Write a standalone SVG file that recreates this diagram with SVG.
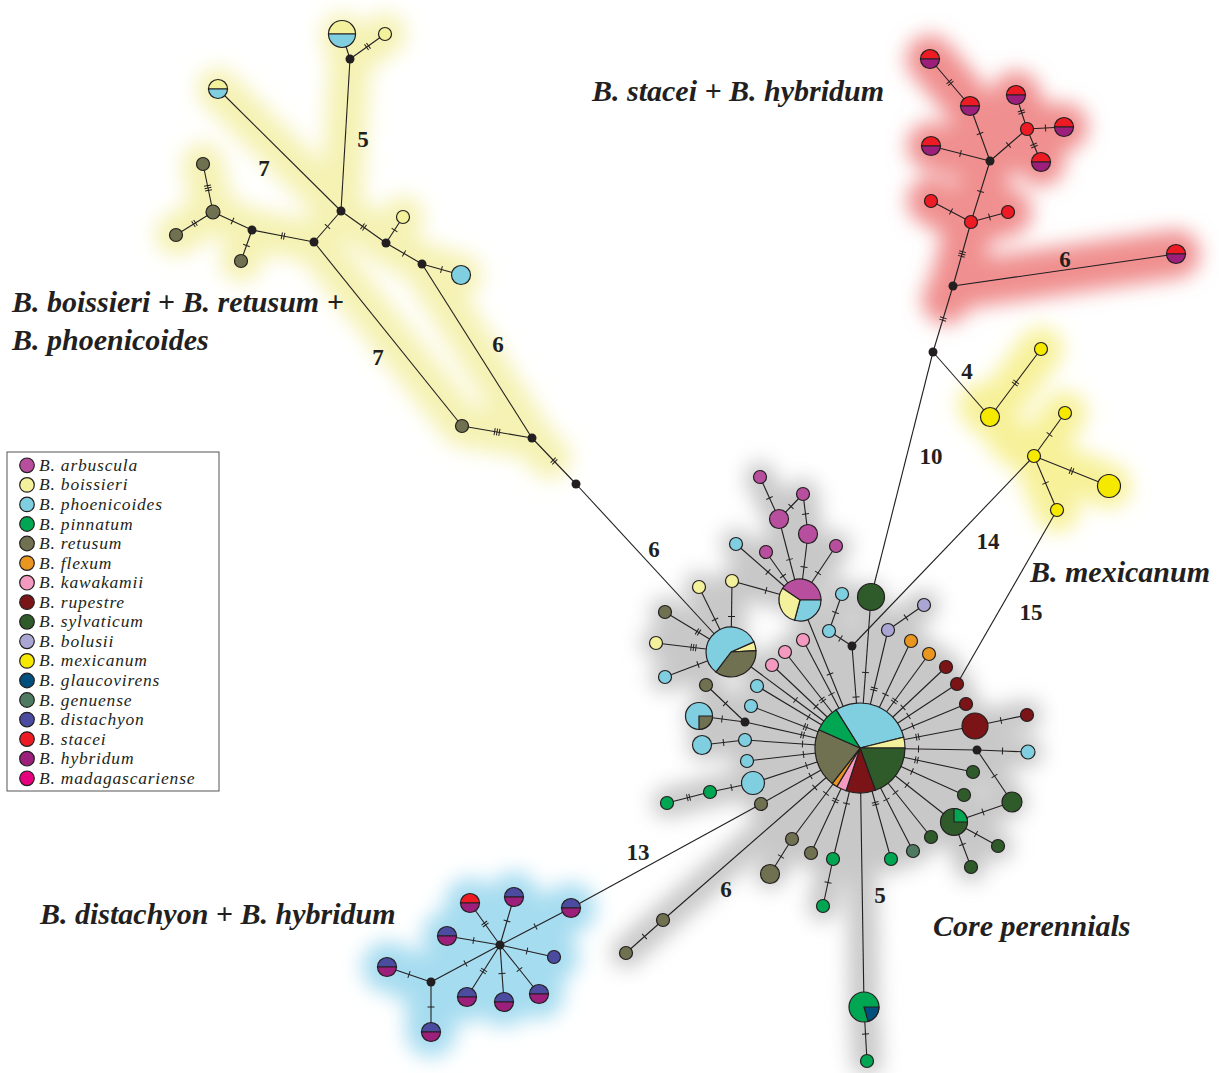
<svg xmlns="http://www.w3.org/2000/svg" width="1219" height="1073" viewBox="0 0 1219 1073">
<style>
.n{stroke:#231f20;stroke-width:1.2}
.ar{fill:#b84f9e}.bo{fill:#f4f19c}.ph{fill:#7fcfe0}.pi{fill:#00a651}.re{fill:#6f7150}.fl{fill:#e8961f}.ka{fill:#f49ac0}.ru{fill:#7b1416}.sy{fill:#2f5b2b}.bl{fill:#a9a6d3}.me{fill:#f6e900}.gl{fill:#004f7c}.ge{fill:#4f7a62}.di{fill:#4b4c9f}.st{fill:#ed1c24}.hy{fill:#9d1f7c}.ma{fill:#e6007e}.bk{fill:#231f20}
.e{fill:none;stroke:#231f20;stroke-width:1.1}
.t1{marker-mid:url(#t1)}.t2{marker-mid:url(#t2)}.t3{marker-mid:url(#t3)}
.glow{fill:none;stroke-linecap:round;stroke-linejoin:round}
.num{font-family:"Liberation Serif","Times New Roman",serif;font-weight:bold;font-size:23px;fill:#231f20;text-anchor:middle}
.title{font-family:"Liberation Serif","Times New Roman",serif;font-weight:bold;font-style:italic;font-size:30px;fill:#231f20}
.leg{font-family:"Liberation Serif","Times New Roman",serif;font-style:italic;font-size:17.5px;letter-spacing:0.8px;fill:#231f20}
</style>
<defs>
<marker id="t1" markerUnits="userSpaceOnUse" markerWidth="12" markerHeight="12" refX="6" refY="6" orient="auto" overflow="visible"><path d="M6 2.5V9.5" stroke="#231f20" stroke-width="1" fill="none"/></marker>
<marker id="t2" markerUnits="userSpaceOnUse" markerWidth="12" markerHeight="12" refX="6" refY="6" orient="auto" overflow="visible"><path d="M4.8 2.5V9.5M7.2 2.5V9.5" stroke="#231f20" stroke-width="1" fill="none"/></marker>
<marker id="t3" markerUnits="userSpaceOnUse" markerWidth="12" markerHeight="12" refX="6" refY="6" orient="auto" overflow="visible"><path d="M3.6 2.5V9.5M6 2.5V9.5M8.4 2.5V9.5" stroke="#231f20" stroke-width="1" fill="none"/></marker>
<filter id="blur" filterUnits="userSpaceOnUse" x="0" y="0" width="1219" height="1073"><feGaussianBlur stdDeviation="10"/></filter>
</defs>
<rect width="1219" height="1073" fill="#fff"/>

<g id="glows" filter="url(#blur)">
<g id="glow-core">
<circle cx="860" cy="748" r="72" fill="#c8c8c8"/>
<path class="glow" stroke="#c8c8c8" stroke-width="30" d="M860 748L800 600M800 600L779 519L760 477M779 519L803 494L808 534L800 600M800 600L766 552M800 600L836 546M800 600L736 544M800 600L732 581L731 652M731 652L699 587M731 652L665 612M731 652L656 643M731 652L665 677M731 652L860 748M706 685L745 722L699 716M745 722L860 748M757 686L860 748M751 706L860 748M702 745L745 740L860 748M747 761L860 748M667 803L710 792L753 783L860 748M761 804L860 748M770 874L792 839L860 748M811 853L860 748M823 906L833 859L860 748M626 953L663 920L860 748M860 748L864 1007L867 1061M891 859L860 748M913 851L860 748M931 837L860 748M860 748L954 822L998 846M954 822L971 867M954 822L1012 802L977 750L1028 752M977 750L860 748M964 795L860 748M973 772L860 748M1027 715L975 726L860 748M966 704L860 748M957 684L860 748M946 667L860 748M929 654L860 748M911 641L860 748M924 605L888 630L860 748M871 597L860 748M842 594L829 631L852 646L860 748M772 665L860 748M785 652L860 748M803 640L860 748"/>
</g>
<g id="glow-tl">
<path class="glow" stroke="#f5f2b4" stroke-width="42" d="M342 34L350 59L385 34M350 59L341 211M218 89L341 211M203 164L213 212L176 235M213 212L252 230L241 261M252 230L314 242L341 211L386 243L403 217M386 243L422 264L461 275M314 242L462 426L532 438L550 458M422 264L532 438"/>
</g>
<g id="glow-mex">
<path class="glow" stroke="#f7f19a" stroke-width="44" d="M980 405L990 417L1041 349M1065 413L1034 456L1109 486M1034 456L1057 510M1034 456L1010 440"/>
</g>
<g id="glow-red">
<path class="glow" stroke="#f08f8f" stroke-width="48" d="M930 59L970 106L990 161L931 146M1016 95L1027 129L1064 127M1027 129L1041 162M1027 129L990 161L971 222L931 201M971 222L1008 212M971 222L953 286L1176 254M953 286L946 300"/>
</g>
<g id="glow-blue">
<circle cx="490" cy="955" r="50" fill="#a6dcf0"/>
<path class="glow" stroke="#a6dcf0" stroke-width="50" d="M470 903L500 945L514 897M500 945L571 908M500 945L447 936M500 945L554 957M500 945L431 982L387 967M431 982L431 1032M500 945L467 997M500 945L504 1002M500 945L539 994"/>
</g>
</g>

<g id="connectors">
<path class="e" d="M342 34L350 59"/>
<path class="e t2" d="M350 59L367.5 46.5L385 34"/>
<path class="e" d="M350 59L341 211"/>
<path class="e" d="M218 89L341 211"/>
<path class="e t3" d="M203 164L208 188L213 212"/>
<path class="e t2" d="M213 212L194.5 223.5L176 235"/>
<path class="e t1" d="M213 212L232.5 221L252 230"/>
<path class="e t1" d="M252 230L246.5 245.5L241 261"/>
<path class="e t2" d="M252 230L283 236L314 242"/>
<path class="e t1" d="M314 242L327.5 226.5L341 211"/>
<path class="e t2" d="M341 211L363.5 227L386 243"/>
<path class="e t1" d="M386 243L394.5 230L403 217"/>
<path class="e t1" d="M386 243L404 253.5L422 264"/>
<path class="e t1" d="M422 264L441.5 269.5L461 275"/>
<path class="e" d="M314 242L462 426"/>
<path class="e" d="M422 264L532 438"/>
<path class="e t3" d="M462 426L497 432L532 438"/>
<path class="e t2" d="M532 438L554 461L576 484"/>
<path class="e" d="M576 484L731 652"/>
<path class="e t2" d="M930 59L950 82.5L970 106"/>
<path class="e t1" d="M970 106L980 133.5L990 161"/>
<path class="e t1" d="M931 146L960.5 153.5L990 161"/>
<path class="e t2" d="M1016 95L1021.5 112L1027 129"/>
<path class="e t1" d="M1064 127L1045.5 128L1027 129"/>
<path class="e t2" d="M1041 162L1034 145.5L1027 129"/>
<path class="e t1" d="M1027 129L1008.5 145L990 161"/>
<path class="e t1" d="M990 161L980.5 191.5L971 222"/>
<path class="e t1" d="M931 201L951 211.5L971 222"/>
<path class="e t1" d="M1008 212L989.5 217L971 222"/>
<path class="e t3" d="M971 222L962 254L953 286"/>
<path class="e" d="M953 286L1176 254"/>
<path class="e t2" d="M953 286L943 319L933 352"/>
<path class="e" d="M933 352L871 597"/>
<path class="e" d="M933 352L990 417"/>
<path class="e t2" d="M990 417L1015.5 383L1041 349"/>
<path class="e t1" d="M1034 456L1049.5 434.5L1065 413"/>
<path class="e t2" d="M1034 456L1071.5 471L1109 486"/>
<path class="e t1" d="M1034 456L1045.5 483L1057 510"/>
<path class="e" d="M1034 456L852 646"/>
<path class="e" d="M1057 510L957 684"/>
<path class="e t2" d="M470 903L485 924L500 945"/>
<path class="e t1" d="M514 897L507 921L500 945"/>
<path class="e t1" d="M571 908L535.5 926.5L500 945"/>
<path class="e t1" d="M447 936L473.5 940.5L500 945"/>
<path class="e t1" d="M554 957L527 951L500 945"/>
<path class="e t1" d="M500 945L465.5 963.5L431 982"/>
<path class="e t1" d="M387 967L409 974.5L431 982"/>
<path class="e t1" d="M431 1032L431 1007L431 982"/>
<path class="e t2" d="M467 997L483.5 971L500 945"/>
<path class="e t1" d="M504 1002L502 973.5L500 945"/>
<path class="e t1" d="M539 994L519.5 969.5L500 945"/>
<path class="e" d="M571 908L761 804"/>
<path class="e t1" d="M760 477L769.5 498L779 519"/>
<path class="e t1" d="M803 494L791 506.5L779 519"/>
<path class="e t1" d="M803 494L805.5 514L808 534"/>
<path class="e t1" d="M779 519L789.5 559.5L800 600"/>
<path class="e t1" d="M808 534L804 567L800 600"/>
<path class="e t1" d="M766 552L783 576L800 600"/>
<path class="e t1" d="M836 546L818 573L800 600"/>
<path class="e t1" d="M736 544L768 572L800 600"/>
<path class="e t1" d="M732 581L766 590.5L800 600"/>
<path class="e t1" d="M800 600L830 674L860 748"/>
<path class="e t1" d="M732 581L731.5 616.5L731 652"/>
<path class="e t1" d="M699 587L715 619.5L731 652"/>
<path class="e t2" d="M665 612L698 632L731 652"/>
<path class="e t3" d="M656 643L693.5 647.5L731 652"/>
<path class="e t1" d="M665 677L698 664.5L731 652"/>
<path class="e t1" d="M731 652L795.5 700L860 748"/>
<path class="e t1" d="M706 685L725.5 703.5L745 722"/>
<path class="e t1" d="M699 716L722 719L745 722"/>
<path class="e t2" d="M745 722L802.5 735L860 748"/>
<path class="e t1" d="M757 686L808.5 717L860 748"/>
<path class="e t2" d="M751 706L805.5 727L860 748"/>
<path class="e t1" d="M745 740L802.5 744L860 748"/>
<path class="e t1" d="M702 745L723.5 742.5L745 740"/>
<path class="e t1" d="M747 761L803.5 754.5L860 748"/>
<path class="e t1" d="M753 783L806.5 765.5L860 748"/>
<path class="e t1" d="M753 783L731.5 787.5L710 792"/>
<path class="e t2" d="M710 792L688.5 797.5L667 803"/>
<path class="e t1" d="M761 804L810.5 776L860 748"/>
<path class="e t1" d="M792 839L826 793.5L860 748"/>
<path class="e t1" d="M792 839L781 856.5L770 874"/>
<path class="e t2" d="M811 853L835.5 800.5L860 748"/>
<path class="e t1" d="M833 859L846.5 803.5L860 748"/>
<path class="e t1" d="M833 859L828 882.5L823 906"/>
<path class="e t1" d="M860 748L814.8 787.5L663 920"/>
<path class="e t1" d="M663 920L644.5 936.5L626 953"/>
<path class="e" d="M860 748L864 1007"/>
<path class="e t1" d="M864 1007L865.5 1034L867 1061"/>
<path class="e t2" d="M891 859L875.5 803.5L860 748"/>
<path class="e t1" d="M913 851L886.5 799.5L860 748"/>
<path class="e t1" d="M931 837L895.5 792.5L860 748"/>
<path class="e t1" d="M954 822L907 785L860 748"/>
<path class="e t1" d="M964 795L912 771.5L860 748"/>
<path class="e t2" d="M973 772L916.5 760L860 748"/>
<path class="e t1" d="M977 750L918.5 749L860 748"/>
<path class="e t1" d="M977 750L1002.5 751L1028 752"/>
<path class="e t1" d="M977 750L994.5 776L1012 802"/>
<path class="e t1" d="M954 822L983 812L1012 802"/>
<path class="e t1" d="M954 822L976 834L998 846"/>
<path class="e t1" d="M954 822L962.5 844.5L971 867"/>
<path class="e t2" d="M975 726L917.5 737L860 748"/>
<path class="e t1" d="M975 726L1001 720.5L1027 715"/>
<path class="e t1" d="M966 704L913 726L860 748"/>
<path class="e t1" d="M957 684L908.5 716L860 748"/>
<path class="e t1" d="M946 667L903 707.5L860 748"/>
<path class="e t2" d="M929 654L894.5 701L860 748"/>
<path class="e t1" d="M911 641L885.5 694.5L860 748"/>
<path class="e t2" d="M888 630L874 689L860 748"/>
<path class="e t1" d="M888 630L906 617.5L924 605"/>
<path class="e t1" d="M871 597L865.5 672.5L860 748"/>
<path class="e t1" d="M842 594L835.5 612.5L829 631"/>
<path class="e t1" d="M829 631L840.5 638.5L852 646"/>
<path class="e t1" d="M852 646L856 697L860 748"/>
<path class="e t1" d="M772 665L816 706.5L860 748"/>
<path class="e t2" d="M785 652L822.5 700L860 748"/>
<path class="e t1" d="M803 640L831.5 694L860 748"/>
</g>

<g id="nodes">
<g id="tl-pie1" transform="translate(342 34)"><path class="n bo" d="M-13.5 0A13.5 13.5 0 0 1 13.5 0Z"/><path class="n ph" d="M-13.5 0A13.5 13.5 0 0 0 13.5 0Z"/></g>
<g id="tl-b1" transform="translate(385 34)"><circle class="n bo" r="6.5"/></g>
<g id="tl-j1" transform="translate(350 59)"><circle class="bk" r="4.5"/></g>
<g id="tl-pie2" transform="translate(218 89)"><path class="n bo" d="M-9.5 0A9.5 9.5 0 0 1 9.5 0Z"/><path class="n ph" d="M-9.5 0A9.5 9.5 0 0 0 9.5 0Z"/></g>
<g id="tl-r1" transform="translate(203 164)"><circle class="n re" r="6.5"/></g>
<g id="tl-r2" transform="translate(213 212)"><circle class="n re" r="7"/></g>
<g id="tl-r3" transform="translate(176 235)"><circle class="n re" r="6.5"/></g>
<g id="tl-j2" transform="translate(252 230)"><circle class="bk" r="4.5"/></g>
<g id="tl-r4" transform="translate(241 261)"><circle class="n re" r="6.5"/></g>
<g id="tl-j3" transform="translate(314 242)"><circle class="bk" r="4.5"/></g>
<g id="tl-j4" transform="translate(341 211)"><circle class="bk" r="4.5"/></g>
<g id="tl-j5" transform="translate(386 243)"><circle class="bk" r="4.5"/></g>
<g id="tl-b2" transform="translate(403 217)"><circle class="n bo" r="6.5"/></g>
<g id="tl-j6" transform="translate(422 264)"><circle class="bk" r="4.5"/></g>
<g id="tl-p1" transform="translate(461 275)"><circle class="n ph" r="9.5"/></g>
<g id="tl-r5" transform="translate(462 426)"><circle class="n re" r="6.5"/></g>
<g id="tl-j7" transform="translate(532 438)"><circle class="bk" r="4.5"/></g>
<g id="tl-j8" transform="translate(576 484)"><circle class="bk" r="4.5"/></g>
<g id="rd-1" transform="translate(930 59)"><path class="n st" d="M-9.5 0A9.5 9.5 0 0 1 9.5 0Z"/><path class="n hy" d="M-9.5 0A9.5 9.5 0 0 0 9.5 0Z"/></g>
<g id="rd-2" transform="translate(970 106)"><path class="n st" d="M-9.5 0A9.5 9.5 0 0 1 9.5 0Z"/><path class="n hy" d="M-9.5 0A9.5 9.5 0 0 0 9.5 0Z"/></g>
<g id="rd-3" transform="translate(1016 95)"><path class="n st" d="M-9.5 0A9.5 9.5 0 0 1 9.5 0Z"/><path class="n hy" d="M-9.5 0A9.5 9.5 0 0 0 9.5 0Z"/></g>
<g id="rd-4" transform="translate(1064 127)"><path class="n st" d="M-9.5 0A9.5 9.5 0 0 1 9.5 0Z"/><path class="n hy" d="M-9.5 0A9.5 9.5 0 0 0 9.5 0Z"/></g>
<g id="rd-5" transform="translate(931 146)"><path class="n st" d="M-9.5 0A9.5 9.5 0 0 1 9.5 0Z"/><path class="n hy" d="M-9.5 0A9.5 9.5 0 0 0 9.5 0Z"/></g>
<g id="rd-6" transform="translate(1041 162)"><path class="n st" d="M-9.5 0A9.5 9.5 0 0 1 9.5 0Z"/><path class="n hy" d="M-9.5 0A9.5 9.5 0 0 0 9.5 0Z"/></g>
<g id="rd-7" transform="translate(1176 254)"><path class="n st" d="M-9.5 0A9.5 9.5 0 0 1 9.5 0Z"/><path class="n hy" d="M-9.5 0A9.5 9.5 0 0 0 9.5 0Z"/></g>
<g id="rd-s1" transform="translate(1027 129)"><circle class="n st" r="6.5"/></g>
<g id="rd-j1" transform="translate(990 161)"><circle class="bk" r="4.5"/></g>
<g id="rd-s2" transform="translate(931 201)"><circle class="n st" r="6.5"/></g>
<g id="rd-s3" transform="translate(971 222)"><circle class="n st" r="6.5"/></g>
<g id="rd-s4" transform="translate(1008 212)"><circle class="n st" r="6.5"/></g>
<g id="rd-j2" transform="translate(953 286)"><circle class="bk" r="4.5"/></g>
<g id="rd-j3" transform="translate(933 352)"><circle class="bk" r="4.5"/></g>
<g id="mx-1" transform="translate(990 417)"><circle class="n me" r="9.5"/></g>
<g id="mx-2" transform="translate(1041 349)"><circle class="n me" r="6.5"/></g>
<g id="mx-3" transform="translate(1065 413)"><circle class="n me" r="6.5"/></g>
<g id="mx-4" transform="translate(1034 456)"><circle class="n me" r="6.5"/></g>
<g id="mx-5" transform="translate(1109 486)"><circle class="n me" r="11.5"/></g>
<g id="mx-6" transform="translate(1057 510)"><circle class="n me" r="6.5"/></g>
<g id="ds-1" transform="translate(470 903)"><path class="n st" d="M-9.5 0A9.5 9.5 0 0 1 9.5 0Z"/><path class="n hy" d="M-9.5 0A9.5 9.5 0 0 0 9.5 0Z"/></g>
<g id="ds-2" transform="translate(514 897)"><path class="n di" d="M-9.5 0A9.5 9.5 0 0 1 9.5 0Z"/><path class="n hy" d="M-9.5 0A9.5 9.5 0 0 0 9.5 0Z"/></g>
<g id="ds-3" transform="translate(571 908)"><path class="n di" d="M-9.5 0A9.5 9.5 0 0 1 9.5 0Z"/><path class="n hy" d="M-9.5 0A9.5 9.5 0 0 0 9.5 0Z"/></g>
<g id="ds-4" transform="translate(447 936)"><path class="n di" d="M-9.5 0A9.5 9.5 0 0 1 9.5 0Z"/><path class="n hy" d="M-9.5 0A9.5 9.5 0 0 0 9.5 0Z"/></g>
<g id="ds-j1" transform="translate(500 945)"><circle class="bk" r="4.5"/></g>
<g id="ds-5" transform="translate(554 957)"><circle class="n di" r="6.5"/></g>
<g id="ds-6" transform="translate(387 967)"><path class="n di" d="M-9.5 0A9.5 9.5 0 0 1 9.5 0Z"/><path class="n hy" d="M-9.5 0A9.5 9.5 0 0 0 9.5 0Z"/></g>
<g id="ds-j2" transform="translate(431 982)"><circle class="bk" r="4.5"/></g>
<g id="ds-7" transform="translate(467 997)"><path class="n di" d="M-9.5 0A9.5 9.5 0 0 1 9.5 0Z"/><path class="n hy" d="M-9.5 0A9.5 9.5 0 0 0 9.5 0Z"/></g>
<g id="ds-8" transform="translate(504 1002)"><path class="n di" d="M-9.5 0A9.5 9.5 0 0 1 9.5 0Z"/><path class="n hy" d="M-9.5 0A9.5 9.5 0 0 0 9.5 0Z"/></g>
<g id="ds-9" transform="translate(539 994)"><path class="n di" d="M-9.5 0A9.5 9.5 0 0 1 9.5 0Z"/><path class="n hy" d="M-9.5 0A9.5 9.5 0 0 0 9.5 0Z"/></g>
<g id="ds-10" transform="translate(431 1032)"><path class="n di" d="M-9.5 0A9.5 9.5 0 0 1 9.5 0Z"/><path class="n hy" d="M-9.5 0A9.5 9.5 0 0 0 9.5 0Z"/></g>
<g id="hub" transform="translate(860 748)">
<path class="n ph" d="M0 0L-23.85 -38.16A45 45 0 0 1 43.66 -10.89Z"/>
<path class="n bo" d="M0 0L43.66 -10.89A45 45 0 0 1 45 0Z"/>
<path class="n sy" d="M0 0L45 0A45 45 0 0 1 15.39 42.29Z"/>
<path class="n ru" d="M0 0L15.39 42.29A45 45 0 0 1 -13.91 42.8Z"/>
<path class="n ka" d="M0 0L-13.91 42.8A45 45 0 0 1 -23.18 38.57Z"/>
<path class="n fl" d="M0 0L-23.18 38.57A45 45 0 0 1 -27.7 35.46Z"/>
<path class="n re" d="M0 0L-27.7 35.46A45 45 0 0 1 -41.11 -18.3Z"/>
<path class="n pi" d="M0 0L-41.11 -18.3A45 45 0 0 1 -23.85 -38.16Z"/>
</g>
<g id="arb-pie" transform="translate(800 600)">
<path class="n ar" d="M0 0L-17.41 -11.74A21 21 0 0 1 21 0Z"/>
<path class="n ph" d="M0 0L21 0A21 21 0 0 1 -5.44 20.28Z"/>
<path class="n bo" d="M0 0L-5.44 20.28A21 21 0 0 1 -17.41 -11.74Z"/>
</g>
<g id="left-pie" transform="translate(731 652)">
<path class="n bo" d="M0 0L22.84 -10.17A25 25 0 0 1 24.97 -1.31Z"/>
<path class="n re" d="M0 0L24.97 -1.31A25 25 0 0 1 -15.05 19.97Z"/>
<path class="n ph" d="M0 0L-15.05 19.97A25 25 0 1 1 22.84 -10.17Z"/>
</g>
<g id="a1" transform="translate(760 477)"><circle class="n ar" r="6.5"/></g>
<g id="a2" transform="translate(803 494)"><circle class="n ar" r="6.5"/></g>
<g id="a3" transform="translate(779 519)"><circle class="n ar" r="9.5"/></g>
<g id="a4" transform="translate(808 534)"><circle class="n ar" r="9.5"/></g>
<g id="a5" transform="translate(766 552)"><circle class="n ar" r="6.5"/></g>
<g id="a6" transform="translate(836 546)"><circle class="n ar" r="6.5"/></g>
<g id="p1" transform="translate(736 544)"><circle class="n ph" r="6.5"/></g>
<g id="b1" transform="translate(732 581)"><circle class="n bo" r="6.5"/></g>
<g id="b2" transform="translate(699 587)"><circle class="n bo" r="6.5"/></g>
<g id="r1" transform="translate(665 612)"><circle class="n re" r="6.5"/></g>
<g id="b3" transform="translate(656 643)"><circle class="n bo" r="6.5"/></g>
<g id="p2" transform="translate(665 677)"><circle class="n ph" r="6.5"/></g>
<g id="r2" transform="translate(706 685)"><circle class="n re" r="6.5"/></g>
<g id="pie2" transform="translate(699 716)"><circle class="n ph" r="13.5"/><path class="n re" d="M0 0L13.5 0A13.5 13.5 0 0 1 0 13.5Z"/></g>
<g id="j1" transform="translate(745 722)"><circle class="bk" r="4.5"/></g>
<g id="p3" transform="translate(757 686)"><circle class="n ph" r="6.5"/></g>
<g id="p4" transform="translate(751 706)"><circle class="n ph" r="6.5"/></g>
<g id="p5" transform="translate(745 740)"><circle class="n ph" r="6.5"/></g>
<g id="p6" transform="translate(702 745)"><circle class="n ph" r="9.5"/></g>
<g id="p7" transform="translate(747 761)"><circle class="n ph" r="6.5"/></g>
<g id="p8" transform="translate(753 783)"><circle class="n ph" r="11.5"/></g>
<g id="pi1" transform="translate(710 792)"><circle class="n pi" r="6.5"/></g>
<g id="pi2" transform="translate(667 803)"><circle class="n pi" r="6.5"/></g>
<g id="r3" transform="translate(761 804)"><circle class="n re" r="6.5"/></g>
<g id="r4" transform="translate(792 839)"><circle class="n re" r="6.5"/></g>
<g id="r5" transform="translate(770 874)"><circle class="n re" r="9.5"/></g>
<g id="r6" transform="translate(811 853)"><circle class="n re" r="6.5"/></g>
<g id="pi3" transform="translate(833 859)"><circle class="n pi" r="6.5"/></g>
<g id="pi4" transform="translate(823 906)"><circle class="n pi" r="6.5"/></g>
<g id="r7" transform="translate(663 920)"><circle class="n re" r="6.5"/></g>
<g id="r8" transform="translate(626 953)"><circle class="n re" r="6.5"/></g>
<g id="pie3" transform="translate(864 1007)"><circle class="n pi" r="15"/><path class="n gl" d="M0 0L15 0A15 15 0 0 1 4.13 14.42Z"/></g>
<g id="pi5" transform="translate(867 1061)"><circle class="n pi" r="6.5"/></g>
<g id="pi6" transform="translate(891 859)"><circle class="n pi" r="6.5"/></g>
<g id="ge1" transform="translate(913 851)"><circle class="n ge" r="6.5"/></g>
<g id="s1" transform="translate(931 837)"><circle class="n sy" r="6.5"/></g>
<g id="pie4" transform="translate(954 822)"><circle class="n sy" r="13.5"/><path class="n pi" d="M0 0L0 -13.5A13.5 13.5 0 0 1 13.5 0Z"/></g>
<g id="s2" transform="translate(964 795)"><circle class="n sy" r="6.5"/></g>
<g id="s3" transform="translate(973 772)"><circle class="n sy" r="6.5"/></g>
<g id="j2" transform="translate(977 750)"><circle class="bk" r="4.5"/></g>
<g id="p9" transform="translate(1028 752)"><circle class="n ph" r="7"/></g>
<g id="s4" transform="translate(1012 802)"><circle class="n sy" r="10"/></g>
<g id="s5" transform="translate(998 846)"><circle class="n sy" r="6.5"/></g>
<g id="s6" transform="translate(971 867)"><circle class="n sy" r="6.5"/></g>
<g id="ru1" transform="translate(975 726)"><circle class="n ru" r="13"/></g>
<g id="ru2" transform="translate(1027 715)"><circle class="n ru" r="6.5"/></g>
<g id="ru3" transform="translate(966 704)"><circle class="n ru" r="6.5"/></g>
<g id="ru4" transform="translate(957 684)"><circle class="n ru" r="6.5"/></g>
<g id="ru5" transform="translate(946 667)"><circle class="n ru" r="6.5"/></g>
<g id="f1" transform="translate(929 654)"><circle class="n fl" r="6.5"/></g>
<g id="f2" transform="translate(911 641)"><circle class="n fl" r="6.5"/></g>
<g id="bl1" transform="translate(888 630)"><circle class="n bl" r="6.5"/></g>
<g id="bl2" transform="translate(924 605)"><circle class="n bl" r="6.5"/></g>
<g id="s7" transform="translate(871 597)"><circle class="n sy" r="13.5"/></g>
<g id="p10" transform="translate(842 594)"><circle class="n ph" r="6.5"/></g>
<g id="p11" transform="translate(829 631)"><circle class="n ph" r="6.5"/></g>
<g id="j3" transform="translate(852 646)"><circle class="bk" r="4.5"/></g>
<g id="k1" transform="translate(772 665)"><circle class="n ka" r="6.5"/></g>
<g id="k2" transform="translate(785 652)"><circle class="n ka" r="6.5"/></g>
<g id="k3" transform="translate(803 640)"><circle class="n ka" r="6.5"/></g>
</g>

<g id="labels">
<text class="num" x="363" y="147">5</text>
<text class="num" x="264" y="176">7</text>
<text class="num" x="378" y="365">7</text>
<text class="num" x="498" y="352">6</text>
<text class="num" x="654" y="557">6</text>
<text class="num" x="1065" y="267">6</text>
<text class="num" x="967" y="379">4</text>
<text class="num" x="931" y="464">10</text>
<text class="num" x="988" y="549">14</text>
<text class="num" x="1031" y="620">15</text>
<text class="num" x="638" y="860">13</text>
<text class="num" x="726" y="897">6</text>
<text class="num" x="880" y="903">5</text>
<text class="title" x="592" y="101">B. stacei + B. hybridum</text>
<text class="title" x="12" y="312">B. boissieri + B. retusum +</text>
<text class="title" x="12" y="350">B. phoenicoides</text>
<text class="title" x="1030" y="582">B. mexicanum</text>
<text class="title" x="40" y="924">B. distachyon + B. hybridum</text>
<text class="title" x="933" y="936">Core perennials</text>
</g>

<g id="legend">
<rect x="7" y="452" width="212" height="339" fill="#fff" stroke="#555" stroke-width="1"/>
<circle class="n ar" cx="27" cy="465.3" r="7.3"/><text class="leg" x="39" y="470.8">B. arbuscula</text>
<circle class="n bo" cx="27" cy="484.9" r="7.3"/><text class="leg" x="39" y="490.4">B. boissieri</text>
<circle class="n ph" cx="27" cy="504.4" r="7.3"/><text class="leg" x="39" y="509.9">B. phoenicoides</text>
<circle class="n pi" cx="27" cy="524" r="7.3"/><text class="leg" x="39" y="529.5">B. pinnatum</text>
<circle class="n re" cx="27" cy="543.5" r="7.3"/><text class="leg" x="39" y="549">B. retusum</text>
<circle class="n fl" cx="27" cy="563.1" r="7.3"/><text class="leg" x="39" y="568.6">B. flexum</text>
<circle class="n ka" cx="27" cy="582.7" r="7.3"/><text class="leg" x="39" y="588.2">B. kawakamii</text>
<circle class="n ru" cx="27" cy="602.2" r="7.3"/><text class="leg" x="39" y="607.7">B. rupestre</text>
<circle class="n sy" cx="27" cy="621.8" r="7.3"/><text class="leg" x="39" y="627.3">B. sylvaticum</text>
<circle class="n bl" cx="27" cy="641.3" r="7.3"/><text class="leg" x="39" y="646.8">B. bolusii</text>
<circle class="n me" cx="27" cy="660.9" r="7.3"/><text class="leg" x="39" y="666.4">B. mexicanum</text>
<circle class="n gl" cx="27" cy="680.5" r="7.3"/><text class="leg" x="39" y="686">B. glaucovirens</text>
<circle class="n ge" cx="27" cy="700" r="7.3"/><text class="leg" x="39" y="705.5">B. genuense</text>
<circle class="n di" cx="27" cy="719.6" r="7.3"/><text class="leg" x="39" y="725.1">B. distachyon</text>
<circle class="n st" cx="27" cy="739.1" r="7.3"/><text class="leg" x="39" y="744.6">B. stacei</text>
<circle class="n hy" cx="27" cy="758.7" r="7.3"/><text class="leg" x="39" y="764.2">B. hybridum</text>
<circle class="n ma" cx="27" cy="778.3" r="7.3"/><text class="leg" x="39" y="783.8">B. madagascariense</text>
</g>
</svg>
